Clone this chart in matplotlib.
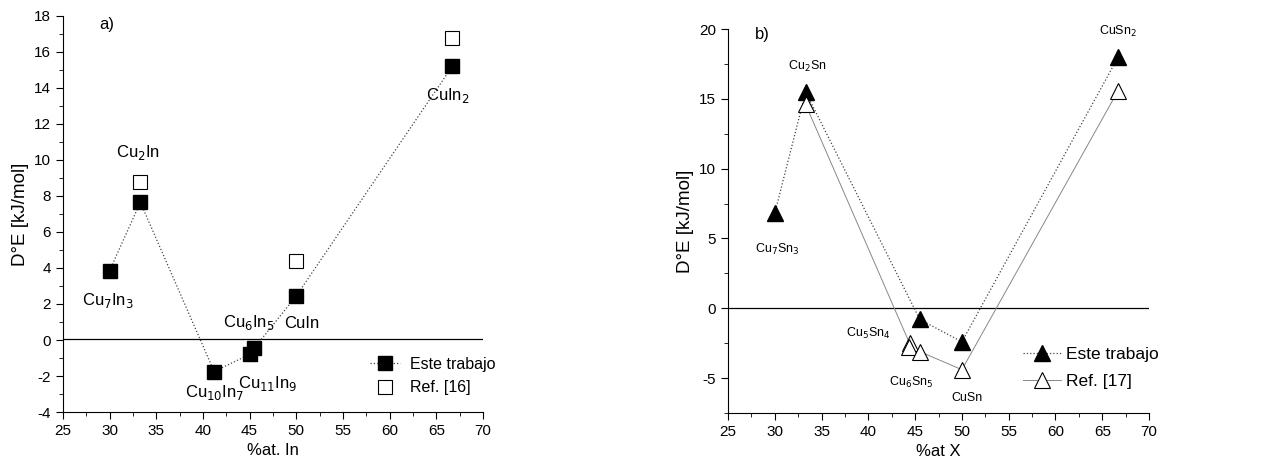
import numpy as np
import matplotlib
matplotlib.use('Agg')
import matplotlib.pyplot as plt
from matplotlib.ticker import MultipleLocator

plt.rcParams['font.family'] = ['Liberation Sans', 'DejaVu Sans']
plt.rcParams['axes.unicode_minus'] = False

# Panel a) Cu-In
x_in = [30, 33.3, 41.2, 45.0, 45.5, 50.0, 66.7]
e_in = [3.85, 7.65, -1.75, -0.8, -0.45, 2.45, 15.2]
x_in_ref = [33.3, 50.0, 66.7]
e_in_ref = [8.75, 4.4, 16.8]

# Panel b) Cu-Sn
x_sn = [30, 33.3, 45.5, 50.0, 66.7]
e_sn = [6.8, 15.5, -0.8, -2.4, 18.0]
x_sn_ref = [33.3, 44.4, 44.3, 45.5, 50.0, 66.7]
e_sn_ref = [14.6, -2.5, -2.8, -3.1, -4.4, 15.6]

fig = plt.figure(figsize=(12.83, 4.69), dpi=100)
ax1 = fig.add_axes([0.049, 0.1215, 0.3275, 0.8445])
ax2 = fig.add_axes([0.5674, 0.1194, 0.3282, 0.8186])

for ax in (ax1, ax2):
    ax.spines['top'].set_visible(False)
    ax.spines['right'].set_visible(False)
    ax.tick_params(which='both', direction='out', labelsize=11)
    ax.tick_params(which='major', length=5)
    ax.tick_params(which='minor', length=3)
    ax.set_xlim(25, 70)
    ax.xaxis.set_major_locator(MultipleLocator(5))
    ax.xaxis.set_minor_locator(MultipleLocator(2.5))
    ax.set_ylabel('D°E [kJ/mol]', fontsize=13.5)

# a)
ax1.set_ylim(-4, 18)
ax1.yaxis.set_major_locator(MultipleLocator(2))
ax1.yaxis.set_minor_locator(MultipleLocator(1))
ax1.axhline(0.05, color='black', lw=0.9)
ax1.plot(x_in, e_in, ls=':', color='#444444', lw=0.9, marker='s', ms=10,
         mfc='black', mec='black', label='Este trabajo')
ax1.plot(x_in_ref, e_in_ref, ls='none', marker='s', ms=10,
         mfc='white', mec='black', mew=0.8, label='Ref. [16]')
ax1.set_xlabel('%at. In', fontsize=12)
ax1.text(28.9, 17.3, 'a)', fontsize=12)
lab_a = [('Cu$_2$In', 33.0, 10.4), ('Cu$_7$In$_3$', 29.8, 2.2),
         ('Cu$_{10}$In$_7$', 41.3, -2.9), ('Cu$_{11}$In$_9$', 46.9, -2.4),
         ('Cu$_6$In$_5$', 44.9, 1.0), ('CuIn', 50.6, 0.9),
         ('CuIn$_2$', 66.2, 13.6)]
for t, x, y in lab_a:
    ax1.text(x, y, t, fontsize=12, ha='center', va='center')
ax1.legend(loc='upper left', bbox_to_anchor=(0.731, 0.14), frameon=False,
           fontsize=11.5, handlelength=1.9, handletextpad=0.6, labelspacing=0.55,
           borderaxespad=0, borderpad=0)

# b)
ax2.set_ylim(-7.5, 20)
ax2.yaxis.set_major_locator(MultipleLocator(5))
ax2.yaxis.set_minor_locator(MultipleLocator(2.5))
ax2.axhline(0, color='black', lw=0.9)
ax2.plot(x_sn, e_sn, ls=':', color='#444444', lw=0.9, marker='^', ms=12,
         mfc='black', mec='black', label='Este trabajo')
ax2.plot(x_sn_ref, e_sn_ref, ls='-', color='#888888', lw=0.7, marker='^', ms=12,
         mfc='white', mec='black', mew=0.8, label='Ref. [17]')
ax2.set_xlabel('%at X', fontsize=12)
ax2.text(27.9, 19.3, 'b)', fontsize=12)
lab_b = [('Cu$_2$Sn', 33.5, 17.3), ('Cu$_7$Sn$_3$', 30.3, 4.2),
         ('CuSn$_2$', 66.7, 19.8), ('Cu$_5$Sn$_4$', 40.0, -1.8),
         ('Cu$_6$Sn$_5$', 44.6, -5.3), ('CuSn', 50.5, -6.4)]
for t, x, y in lab_b:
    ax2.text(x, y, t, fontsize=9, ha='center', va='center')
ax2.legend(loc='upper left', bbox_to_anchor=(0.70, 0.172), frameon=False,
           fontsize=12.5, handlelength=2.2, handletextpad=0.3, labelspacing=0.7,
           borderaxespad=0, borderpad=0)

fig.savefig('out.png', dpi=100)
